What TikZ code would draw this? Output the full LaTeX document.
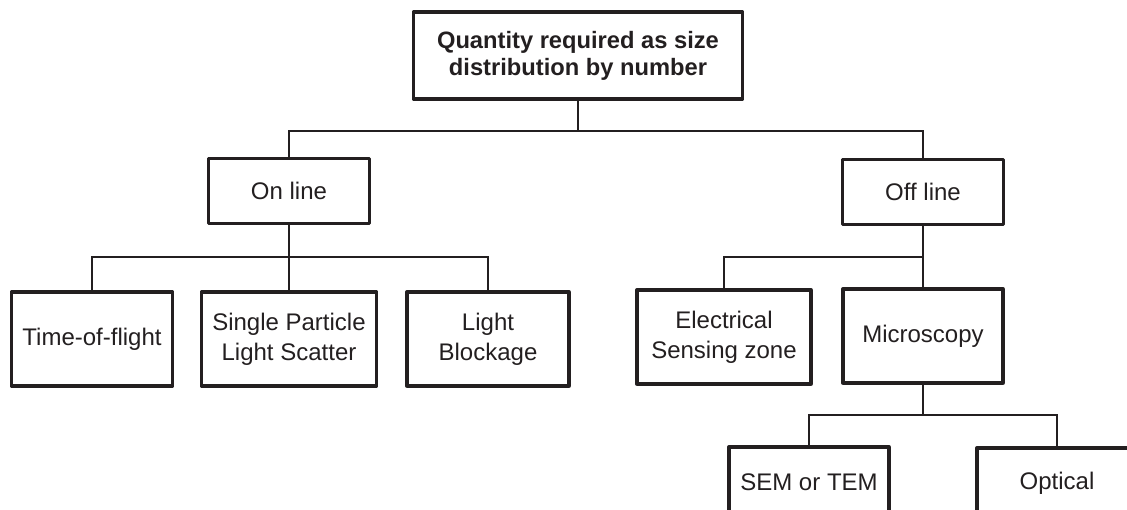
\documentclass[tikz,border=0pt]{standalone}
\usepackage{fontspec}
\setmainfont{Liberation Sans}
\definecolor{ink}{HTML}{231F20}

\begin{document}
\begin{tikzpicture}[x=1pt,y=-1pt,
  box/.style={draw=ink,line width=3.3pt,line join=round,align=center,inner sep=0pt,text=ink,font=\fontsize{24}{30}\selectfont},
  head/.style={box,font=\bfseries\fontsize{23.7}{27}\selectfont},
  link/.style={draw=ink,line width=1.3pt}]
\useasboundingbox (0,0) rectangle (1127,509);
\clip (0,0) rectangle (1127,509);
\node[head,minimum width=329pt,minimum height=87pt] (qty) at (578,55.5) {Quantity required as size\\distribution by number};
\node[box,minimum width=161pt,minimum height=65pt] (online) at (289,191) {On line};
\node[box,minimum width=161pt,minimum height=65pt] (offline) at (923,192) {Off line};
\node[box,minimum width=161pt,minimum height=94pt] (tof) at (92,339) {Time-of-flight};
\node[box,minimum width=175pt,minimum height=94pt] (spls) at (289,339) {Single Particle\\Light Scatter};
\node[box,minimum width=162pt,minimum height=94pt] (lb) at (488,339) {Light\\Blockage};
\node[box,minimum width=174pt,minimum height=94pt] (esz) at (724,337) {Electrical\\Sensing zone};
\node[box,minimum width=160pt,minimum height=94pt] (mic) at (923,336) {Microscopy};
\node[box,minimum width=160pt,minimum height=70pt] (sem) at (809,482) {SEM or TEM};
\node[box,minimum width=160pt,minimum height=70pt] (opt) at (1057,483) {Optical};
\coordinate (b1) at (578,131);
\coordinate (b2) at (289,257);
\coordinate (b3) at (923,257);
\coordinate (b4) at (923,415);
\draw[link] (qty.south) -- (b1);
\draw[link] (online.north) |- (b1) -| (offline.north);
\draw[link] (online.south) -- (b2) -- (spls.north);
\draw[link] (tof.north) |- (b2) -| (lb.north);
\draw[link] (offline.south) -- (b3) -- (mic.north);
\draw[link] (b3) -| (esz.north);
\draw[link] (mic.south) -- (b4);
\draw[link] (sem.north) |- (b4) -| (opt.north);
\end{tikzpicture}
\end{document}
